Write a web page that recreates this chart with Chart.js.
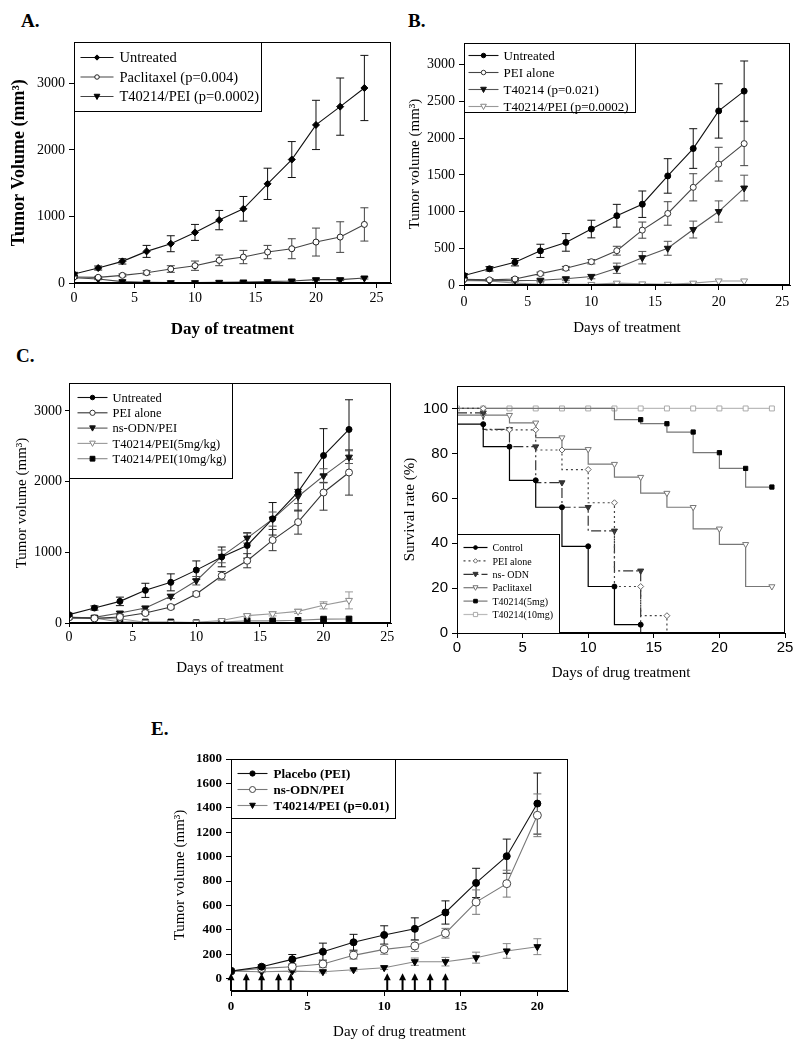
<!DOCTYPE html>
<html><head><meta charset="utf-8">
<script src="https://cdn.jsdelivr.net/npm/chart.js@4.4.1/dist/chart.umd.min.js"></script>
<style>
html,body{margin:0;padding:0;background:#fff;}
body{width:798px;height:1044px;position:relative;overflow:hidden;}
canvas{position:absolute;}
.lab{position:absolute;font-family:"Liberation Serif","Times New Roman",serif;font-weight:bold;line-height:1;color:#000;}
</style></head><body>
<div class="lab" style="left:21px;top:11px;font-size:19px">A.</div>
<div class="lab" style="left:408px;top:11px;font-size:19px">B.</div>
<div class="lab" style="left:16px;top:346px;font-size:19px">C.</div>
<div class="lab" style="left:151px;top:719px;font-size:19px">E.</div>
<canvas id="cA" width="400" height="315" style="left:0;top:30px"></canvas>
<canvas id="cB" width="398" height="315" style="left:400px;top:30px"></canvas>
<canvas id="cC" width="400" height="325" style="left:0;top:365px"></canvas>
<canvas id="cD" width="398" height="325" style="left:400px;top:365px"></canvas>
<canvas id="cE" width="460" height="344" style="left:140px;top:700px"></canvas>
<script>
// ---------- Panel A ----------
const daysA = [0,2,4,6,8,10,12,14,16,18,20,22,24];
const untreatedA = [135,225,325,475,590,760,945,1115,1490,1855,2375,2650,2930];
const untreatedErrA = [25,30,40,90,120,120,145,185,235,270,370,430,490];
const paclitaxelA = [90,85,115,155,210,260,340,390,465,515,615,690,880];
const paclitaxelErrA = [15,15,20,30,50,70,80,100,100,150,210,230,250];
const t40214PeiA = [80,60,20,10,5,5,10,15,20,30,50,50,75];
const t40214PeiErrA = [10,10,8,5,5,5,5,8,10,10,15,15,15];
const xTicksA = [0,5,10,15,20,25];
const yTicksA = [0,1000,2000,3000];

// ---------- Panel B ----------
const daysB = [0,2,4,6,8,10,12,14,16,18,20,22];
const untreatedB = [130,220,310,465,580,762,943,1100,1485,1858,2370,2640];
const untreatedErrB = [25,30,50,90,120,120,155,180,235,270,370,410];
const peiAloneB = [77,70,82,155,228,317,467,747,974,1330,1645,1925];
const peiAloneErrB = [15,15,20,20,25,30,60,110,160,185,230,300];
const t40214B = [70,60,60,65,85,115,228,372,500,755,1000,1320];
const t40214ErrB = [10,10,15,15,20,30,70,85,95,115,145,175];
const t40214PeiB = [60,55,25,10,10,8,25,15,10,25,55,55];
const xTicksB = [0,5,10,15,20,25];
const yTicksB = [0,500,1000,1500,2000,2500,3000];

// ---------- Panel C ----------
const daysC = [0,2,4,6,8,10,12,14,16,18,20,22];
const untreatedC = [118,212,306,462,575,748,935,1097,1474,1855,2369,2738];
const untreatedErrC = [20,30,60,100,120,130,140,180,230,270,380,420];
const peiAloneC = [80,65,85,141,226,410,669,881,1173,1427,1846,2129];
const peiAloneErrC = [10,10,15,20,25,30,60,100,150,170,250,320];
const nsOdnPeiC = [71,80,141,212,377,598,942,1201,1470,1790,2082,2346];
const nsOdnPeiErrC = [10,15,20,25,30,60,90,70,100,100,100,90];
const t5mgC = [65,65,60,10,5,10,35,105,130,165,250,320];
const t5mgErrC = [5,5,5,5,5,5,10,20,30,30,50,120];
const t10mgC = [85,70,15,15,15,5,15,30,30,38,55,57];
const xTicksC = [0,5,10,15,20,25];
const yTicksC = [0,1000,2000,3000];

// ---------- Panel D (survival) ----------
const controlDaysD = [0,2,4,6,8,10,12,14];
const controlSurvD = [93,93,83,68,56,38.6,20.7,3.7];
const peiDaysD = [0,2,4,6,8,10,12,14,16,16];
const peiSurvD = [100,100,90.5,90.5,81.5,72.8,58,20.7,7.7,0];
const nsOdnDaysD = [0,2,4,6,8,10,12,14,14];
const nsOdnSurvD = [98,98,90.7,83,67,56,45.5,27.7,0];
const paclitaxelDaysD = [0,2,4,6,8,10,12,14,16,18,20,22,24];
const paclitaxelSurvD = [97,97,97,93.6,87,81.8,75.2,69.4,62.3,56,46.4,39.5,20.7];
const t5mgDaysD = [0,2,4,6,8,10,12,14,16,18,20,22,24];
const t5mgSurvD = [100,100,100,100,100,100,100,95,93.2,89.5,80.3,73.3,65];
const t10mgDaysD = [0,2,4,6,8,10,12,14,16,18,20,22,24];
const t10mgSurvD = [100,100,100,100,100,100,100,100,100,100,100,100,100];
const xTicksD = [0,5,10,15,20,25];
const yTicksD = [0,20,40,60,80,100];

// ---------- Panel E ----------
const daysE = [0,2,4,6,8,10,12,14,16,18,20];
const placeboE = [63,99,159,222,299,359,409,543,785,1004,1435];
const placeboErrE = [15,15,40,70,65,75,90,95,120,140,250];
const nsOdnPeiE = [63,85,99,121,192,241,269,373,628,779,1339];
const nsOdnPeiErrE = [10,10,20,30,30,40,45,40,100,110,175];
const t40214PeiE = [63,58,63,58,74,91,140,140,173,228,263];
const t40214PeiErrE = [5,5,10,10,10,15,30,35,45,60,65];
const arrowDaysE = [0,1,2,3.1,3.9,10.2,11.2,12,13,14];
const arrowTipE = 45;
const xTicksE = [0,5,10,15,20];
const yTicksE = [0,200,400,600,800,1000,1200,1400,1600,1800];

// ---------- helpers ----------
const SERIF = '"Liberation Serif", "Times New Roman", serif';
const SANS = '"Liberation Sans", Arial, sans-serif';
const pts = (xs, ys) => xs.map((x, i) => ({x: x, y: ys[i]}));

function drawMarker(ctx, style, r, rot, x, y, fill, stroke) {
  ctx.save();
  ctx.translate(x, y);
  ctx.rotate((rot || 0) * Math.PI / 180);
  ctx.beginPath();
  if (style === 'triangle') {
    ctx.moveTo(0, -r); ctx.lineTo(r * 0.95, r * 0.75); ctx.lineTo(-r * 0.95, r * 0.75); ctx.closePath();
  } else if (style === 'rect') {
    const s = r * 0.8; ctx.rect(-s, -s, 2 * s, 2 * s);
  } else if (style === 'rectRot') {
    ctx.moveTo(0, -r); ctx.lineTo(r, 0); ctx.lineTo(0, r); ctx.lineTo(-r, 0); ctx.closePath();
  } else {
    ctx.arc(0, 0, r, 0, Math.PI * 2);
  }
  ctx.fillStyle = fill; ctx.fill();
  ctx.lineWidth = 1; ctx.strokeStyle = stroke; ctx.stroke();
  ctx.restore();
}

const errorBars = {
  id: 'errorBars',
  beforeDatasetsDraw(chart) {
    const ctx = chart.ctx, xs = chart.scales.x, ys = chart.scales.y, ca = chart.chartArea;
    ctx.save();
    ctx.beginPath(); ctx.rect(ca.left, ca.top, ca.right - ca.left, ca.bottom - ca.top); ctx.clip();
    chart.data.datasets.forEach(ds => {
      if (!ds.err) return;
      ctx.strokeStyle = ds.errColor || ds.borderColor; ctx.lineWidth = 1; ctx.setLineDash([]);
      ds.data.forEach((p, i) => {
        const e = ds.err[i]; if (!e) return;
        const x = xs.getPixelForValue(p.x);
        const y1 = ys.getPixelForValue(p.y + e), y2 = ys.getPixelForValue(p.y - e);
        ctx.beginPath();
        ctx.moveTo(x, y1); ctx.lineTo(x, y2);
        ctx.moveTo(x - 4, y1); ctx.lineTo(x + 4, y1);
        ctx.moveTo(x - 4, y2); ctx.lineTo(x + 4, y2);
        ctx.stroke();
      });
    });
    ctx.restore();
  }
};

const frame = {
  id: 'frame',
  afterDraw(chart) {
    const ctx = chart.ctx, a = chart.chartArea;
    ctx.save();
    ctx.strokeStyle = '#000'; ctx.lineWidth = 1;
    ctx.strokeRect(Math.round(a.left) + 0.5, Math.round(a.top) + 0.5, Math.round(a.right - a.left) - 1, Math.round(a.bottom - a.top) - 1);
    ctx.restore();
  }
};

function boxLegend(o) {
  return {
    id: 'boxLegend',
    afterDraw(chart) {
      const ctx = chart.ctx, a = chart.chartArea;
      const x0 = Math.round(a.left) + 0.5;
      const y0 = o.bottom ? Math.round(a.bottom) - o.h + 0.5 : Math.round(a.top) + 0.5;
      ctx.save();
      ctx.fillStyle = '#fff'; ctx.fillRect(x0, y0, o.w, o.h);
      ctx.strokeStyle = '#000'; ctx.lineWidth = 1; ctx.strokeRect(x0, y0, o.w, o.h);
      chart.data.datasets.forEach((ds, i) => {
        const y = y0 + o.first + i * o.step;
        ctx.strokeStyle = ds.borderColor; ctx.lineWidth = ds.borderWidth || 1;
        ctx.setLineDash(ds.borderDash || []);
        ctx.beginPath(); ctx.moveTo(x0 + o.s0, y); ctx.lineTo(x0 + o.s1, y); ctx.stroke();
        ctx.setLineDash([]);
        drawMarker(ctx, ds.pointStyle, ds.legendRadius, ds.pointRotation, x0 + (o.s0 + o.s1) / 2, y,
          ds.pointBackgroundColor, ds.pointBorderColor);
        ctx.fillStyle = '#000'; ctx.font = o.font; ctx.textBaseline = 'middle'; ctx.textAlign = 'left';
        ctx.fillText(ds.label, x0 + o.tx, y + 1);
      });
      ctx.restore();
    }
  };
}

function arrows(o) {
  return {
    id: 'arrows',
    afterDatasetsDraw(chart) {
      const ctx = chart.ctx, xs = chart.scales.x, ys = chart.scales.y;
      ctx.save();
      ctx.strokeStyle = '#000'; ctx.fillStyle = '#000';
      o.days.forEach(d => {
        const x = xs.getPixelForValue(d);
        const yb = ys.getPixelForValue(ys.min), yt = ys.getPixelForValue(o.tip);
        ctx.lineWidth = 2;
        ctx.beginPath(); ctx.moveTo(x, yb); ctx.lineTo(x, yt + 5); ctx.stroke();
        ctx.beginPath(); ctx.moveTo(x, yt); ctx.lineTo(x - 3.5, yt + 7); ctx.lineTo(x + 3.5, yt + 7); ctx.closePath(); ctx.fill();
      });
      ctx.restore();
    }
  };
}

function axis(o, horizontal) {
  return {
    type: 'linear', min: o.min, max: o.max,
    afterBuildTicks: s => { s.ticks = o.ticks.map(v => ({value: v})); },
    afterFit: s => { if (horizontal) s.height = o.size; else s.width = o.size; },
    border: {display: true, color: '#000', width: 1},
    grid: {drawOnChartArea: false, drawTicks: true, tickLength: o.tl, color: '#000', lineWidth: 1},
    ticks: {font: o.tickFont, color: '#000', padding: o.tp, maxRotation: 0, autoSkip: false,
            callback: v => String(v)},
    title: {display: true, text: o.title, font: o.titleFont, color: '#000',
            padding: horizontal ? {top: 0, bottom: o.pad} : {top: o.pad, bottom: 0}}
  };
}

function series(label, xs, ys, err, st) {
  return Object.assign({
    label: label, data: pts(xs, ys), err: err,
    borderWidth: 1.1, tension: 0, fill: false,
    pointBorderWidth: 1, pointHoverRadius: 0
  }, st);
}

function make(id, datasets, x, y, pad, extraPlugins) {
  return new Chart(document.getElementById(id), {
    type: 'line',
    data: {datasets: datasets},
    options: {
      responsive: false, animation: false, devicePixelRatio: 1,
      layout: {padding: pad},
      plugins: {legend: {display: false}, tooltip: {enabled: false}},
      scales: {x: axis(x, true), y: axis(y, false)}
    },
    plugins: [errorBars, frame].concat(extraPlugins)
  });
}

const mk = (style, r, fill, stroke, rot) => ({
  pointStyle: style, pointRadius: r, legendRadius: r * 0.75, pointBackgroundColor: fill,
  pointBorderColor: stroke, pointRotation: rot || 0
});

// ---------- Chart A ----------
make('cA', [
  series('Untreated', daysA, untreatedA, untreatedErrA, Object.assign({borderColor: '#111'}, mk('rectRot', 3.5, '#000', '#000'))),
  series('Paclitaxel (p=0.004)', daysA, paclitaxelA, paclitaxelErrA, Object.assign({borderColor: '#444'}, mk('circle', 3, '#fff', '#222'))),
  series('T40214/PEI (p=0.0002)', daysA, t40214PeiA, t40214PeiErrA, Object.assign({borderColor: '#444'}, mk('triangle', 4, '#000', '#000', 180)))
],
{min: 0, max: 26.2, ticks: xTicksA, size: 62, tl: 5, tp: 2, tickFont: {family: SERIF, size: 14},
 title: 'Day of treatment', titleFont: {family: SERIF, size: 17, weight: 'bold'}, pad: 5},
{min: 0, max: 3615, ticks: yTicksA, size: 74, tl: 5, tp: 4, tickFont: {family: SERIF, size: 14},
 title: 'Tumor Volume (mm³)', titleFont: {family: SERIF, size: 18, weight: 'bold'}, pad: 9},
{top: 12, right: 9, left: 0, bottom: 0},
[boxLegend({w: 187, h: 69, first: 15, step: 19.5, s0: 6, s1: 39, tx: 45, font: '14.5px ' + SERIF})]);

// ---------- Chart B ----------
make('cB', [
  series('Untreated', daysB, untreatedB, untreatedErrB, Object.assign({borderColor: '#111'}, mk('circle', 3, '#000', '#000'))),
  series('PEI alone', daysB, peiAloneB, peiAloneErrB, Object.assign({borderColor: '#444'}, mk('circle', 3, '#fff', '#333'))),
  series('T40214 (p=0.021)', daysB, t40214B, t40214ErrB, Object.assign({borderColor: '#555'}, mk('triangle', 4, '#111', '#111', 180))),
  series('T40214/PEI (p=0.0002)', daysB, t40214PeiB, null, Object.assign({borderColor: '#999'}, mk('triangle', 4, '#fff', '#888', 180)))
],
{min: 0, max: 25.6, ticks: xTicksB, size: 60, tl: 5, tp: 4, tickFont: {family: SERIF, size: 14},
 title: 'Days of treatment', titleFont: {family: SERIF, size: 15}, pad: 8},
{min: 0, max: 3295, ticks: yTicksB, size: 64, tl: 5, tp: 4, tickFont: {family: SERIF, size: 14},
 title: 'Tumor volume (mm³)', titleFont: {family: SERIF, size: 15}, pad: 6},
{top: 13, right: 8, left: 0, bottom: 0},
[boxLegend({w: 171, h: 69, first: 12, step: 17, s0: 4, s1: 34, tx: 39, font: '13px ' + SERIF})]);

// ---------- Chart C ----------
make('cC', [
  series('Untreated', daysC, untreatedC, untreatedErrC, Object.assign({borderColor: '#111'}, mk('circle', 3, '#000', '#000'))),
  series('PEI alone', daysC, peiAloneC, peiAloneErrC, Object.assign({borderColor: '#333'}, mk('circle', 3.5, '#fff', '#333'))),
  series('ns-ODN/PEI', daysC, nsOdnPeiC, nsOdnPeiErrC, Object.assign({borderColor: '#555'}, mk('triangle', 4, '#111', '#111', 180))),
  series('T40214/PEI(5mg/kg)', daysC, t5mgC, t5mgErrC, Object.assign({borderColor: '#999'}, mk('triangle', 4, '#fff', '#888', 180))),
  series('T40214/PEI(10mg/kg)', daysC, t10mgC, null, Object.assign({borderColor: '#888'}, mk('rect', 4, '#000', '#000')))
],
{min: 0, max: 25.3, ticks: xTicksC, size: 67, tl: 4, tp: 2, tickFont: {family: SERIF, size: 14},
 title: 'Days of treatment', titleFont: {family: SERIF, size: 15}, pad: 13},
{min: 0, max: 3395, ticks: yTicksC, size: 69, tl: 4, tp: 3, tickFont: {family: SERIF, size: 14},
 title: 'Tumor volume (mm³)', titleFont: {family: SERIF, size: 15}, pad: 13},
{top: 18, right: 9, left: 0, bottom: 0},
[boxLegend({w: 163, h: 95, first: 14, step: 15.3, s0: 8, s1: 38, tx: 43, font: '12.5px ' + SERIF})]);

// ---------- Chart D ----------
const stepSeries = (label, xs, ys, st, radii) => Object.assign(series(label, xs, ys, null, st), {
  stepped: 'after', pointRadius: radii
});
const firstOff = (xs, r) => xs.map((_, i) => i === 0 ? 0 : r);
make('cD', [
  stepSeries('Control', controlDaysD, controlSurvD,
    Object.assign({borderColor: '#000', borderWidth: 1.2}, mk('circle', 2.5, '#000', '#000')), firstOff(controlDaysD, 2.5)),
  stepSeries('PEI alone', peiDaysD, peiSurvD,
    Object.assign({borderColor: '#444', borderWidth: 1.2, borderDash: [2, 3]}, mk('rectRot', 3, '#fff', '#666')),
    peiDaysD.map((_, i) => (i === 0 || i === peiDaysD.length - 1) ? 0 : 3)),
  stepSeries('ns- ODN', nsOdnDaysD, nsOdnSurvD,
    Object.assign({borderColor: '#333', borderWidth: 1.2, borderDash: [10, 3, 2, 3]}, mk('triangle', 3.5, '#333', '#333', 180)),
    nsOdnDaysD.map((_, i) => (i === 0 || i === nsOdnDaysD.length - 1) ? 0 : 3.5)),
  stepSeries('Paclitaxel', paclitaxelDaysD, paclitaxelSurvD,
    Object.assign({borderColor: '#777', borderWidth: 1.2}, mk('triangle', 3.5, '#fff', '#777', 180)), firstOff(paclitaxelDaysD, 3.5)),
  stepSeries('T40214(5mg)', t5mgDaysD, t5mgSurvD,
    Object.assign({borderColor: '#777', borderWidth: 1.2}, mk('rect', 3, '#000', '#000')),
    t5mgSurvD.map((v, i) => (i > 0 && v < 100) ? 3 : 0)),
  stepSeries('T40214(10mg)', t10mgDaysD, t10mgSurvD,
    Object.assign({borderColor: '#bbb', borderWidth: 1.2}, mk('rect', 3.5, '#fff', '#aaa')), t10mgDaysD.map(() => 3.5))
],
{min: 0, max: 25, ticks: xTicksD, size: 57, tl: 5, tp: 1, tickFont: {family: SANS, size: 15},
 title: 'Days of drug treatment', titleFont: {family: SERIF, size: 15}, pad: 8},
{min: 0, max: 110, ticks: yTicksD, size: 57, tl: 5, tp: 4, tickFont: {family: SANS, size: 15},
 title: 'Survival rate (%)', titleFont: {family: SERIF, size: 15}, pad: 1},
{top: 21, right: 13, left: 0, bottom: 0},
[boxLegend({bottom: true, w: 102, h: 99, first: 13, step: 13.4, s0: 6, s1: 30, tx: 35, font: '10px ' + SERIF})]);

// ---------- Chart E ----------
make('cE', [
  series('Placebo (PEI)', daysE, placeboE, placeboErrE, Object.assign({borderColor: '#111'}, mk('circle', 3.5, '#000', '#000'))),
  series('ns-ODN/PEI', daysE, nsOdnPeiE, nsOdnPeiErrE, Object.assign({borderColor: '#777'}, mk('circle', 4, '#fff', '#444'))),
  series('T40214/PEI (p=0.01)', daysE, t40214PeiE, t40214PeiErrE, Object.assign({borderColor: '#888'}, mk('triangle', 4, '#000', '#000', 180)))
],
{min: 0, max: 22, ticks: xTicksE, size: 53, tl: 5, tp: 3, tickFont: {family: SERIF, size: 13, weight: 'bold'},
 title: 'Day of drug treatment', titleFont: {family: SERIF, size: 15}, pad: 3},
{min: -100, max: 1800, ticks: yTicksE, size: 91, tl: 5, tp: 4, tickFont: {family: SERIF, size: 13, weight: 'bold'},
 title: 'Tumor volume (mm³)', titleFont: {family: SERIF, size: 15}, pad: 31},
{top: 59, right: 32, left: 0, bottom: 0},
[arrows({days: arrowDaysE, tip: arrowTipE}),
 boxLegend({w: 164, h: 59, first: 14, step: 16, s0: 6, s1: 36, tx: 42, font: 'bold 13px ' + SERIF})]);
</script>
</body></html>
